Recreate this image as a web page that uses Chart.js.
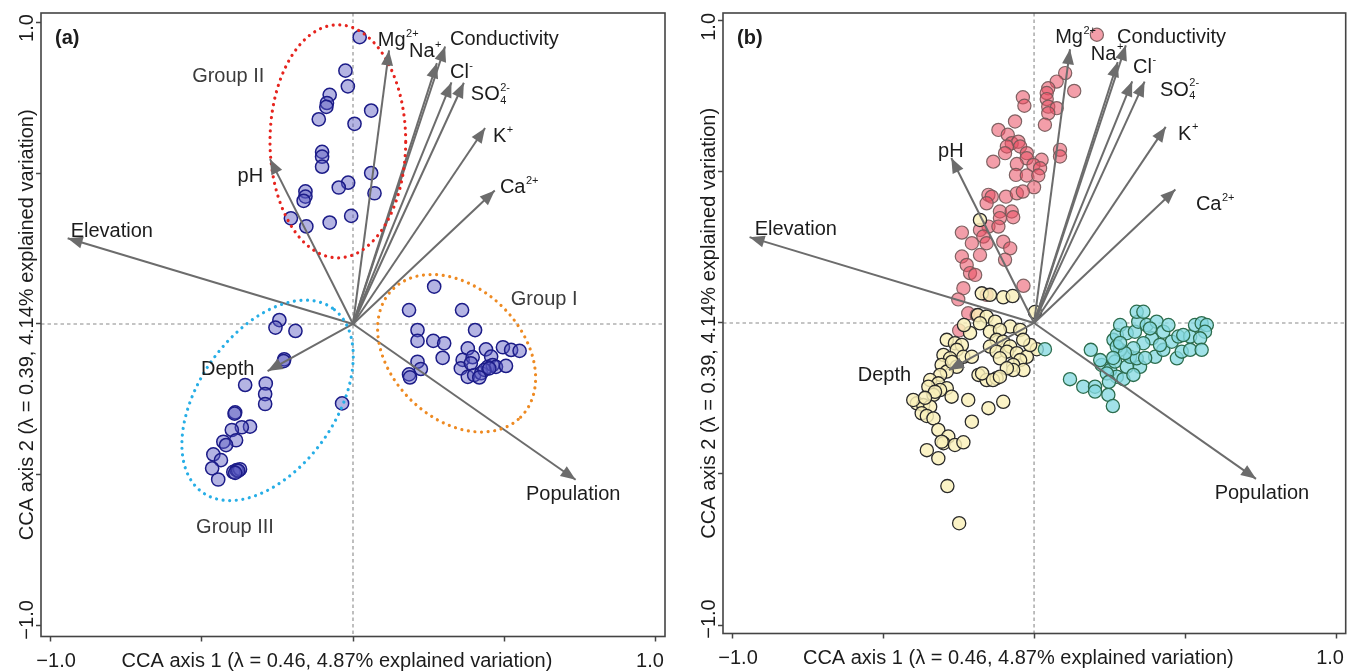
<!DOCTYPE html>
<html><head><meta charset="utf-8">
<script src="https://cdn.jsdelivr.net/npm/chart.js@4.4.1/dist/chart.umd.min.js"></script>
<style>
html,body{margin:0;padding:0;background:#fff;width:1357px;height:671px;overflow:hidden}
.p{position:absolute;top:0;height:671px}
#wa{left:0;width:680px}
#wb{left:680px;width:677px}
canvas{display:block}
</style></head><body>
<div class="p" id="wa"><canvas id="ca" width="680" height="671"></canvas></div>
<div class="p" id="wb"><canvas id="cb" width="677" height="671"></canvas></div>
<script>
// ---------- axes ----------
const tickValues = [-1, -0.5, 0, 0.5, 1];
const tickLabels = ['\u22121.0', '', '', '', '1.0'];
const xAxisTitle = 'CCA axis 1 (\u03bb = 0.46, 4.87% explained variation)';
const yAxisTitle = 'CCA axis 2 (\u03bb = 0.39, 4.14% explained variation)';

// ---------- environmental vectors (shared by both panels) ----------
const envNames = ['Mg^{2+}','Na^{+}','Conductivity','Cl^{-}','SO_{4}^{2-}','K^{+}','Ca^{2+}','pH','Elevation','Depth','Population'];
const envX = [0.119, 0.277, 0.304, 0.325, 0.366, 0.436, 0.468, -0.274, -0.942, -0.282, 0.735];
const envY = [0.906, 0.864, 0.919, 0.800, 0.799, 0.649, 0.442, 0.546, 0.284, -0.156, -0.516];

// ---------- panel (a) samples ----------
const groupIX = [0.268,0.185,0.360,0.403,0.213,0.213,0.265,0.301,0.296,0.213,0.224,0.185,0.188,0.379,0.439,0.495,0.522,0.550,0.362,0.395,0.456,0.356,0.379,0.400,0.423,0.445,0.461,0.472,0.505,0.434,0.417,0.450,0.389];
const groupIY = [0.124,0.046,0.046,-0.020,-0.020,-0.056,-0.056,-0.064,-0.112,-0.125,-0.149,-0.167,-0.177,-0.081,-0.084,-0.077,-0.086,-0.089,-0.119,-0.110,-0.108,-0.147,-0.175,-0.169,-0.163,-0.142,-0.136,-0.142,-0.139,-0.152,-0.177,-0.147,-0.130];
const groupIIX = [0.022,-0.025,-0.017,-0.077,-0.086,-0.088,-0.113,0.005,0.060,-0.102,-0.102,-0.102,0.060,0.071,-0.016,-0.047,-0.157,-0.157,-0.163,-0.205,-0.154,-0.077,-0.006];
const groupIIY = [0.950,0.839,0.787,0.759,0.732,0.719,0.678,0.663,0.707,0.570,0.554,0.521,0.500,0.433,0.468,0.452,0.439,0.422,0.408,0.350,0.323,0.336,0.358];
const groupIIIX = [-0.243,-0.256,-0.190,-0.227,-0.229,-0.356,-0.288,-0.290,-0.290,-0.036,-0.389,-0.391,-0.340,-0.367,-0.400,-0.386,-0.428,-0.419,-0.461,-0.436,-0.465,-0.445,-0.395,-0.384,-0.373,-0.379,-0.389];
const groupIIIY = [0.013,-0.012,-0.023,-0.117,-0.123,-0.202,-0.197,-0.232,-0.265,-0.263,-0.293,-0.297,-0.340,-0.342,-0.351,-0.385,-0.390,-0.401,-0.432,-0.451,-0.478,-0.515,-0.490,-0.484,-0.481,-0.486,-0.493];
const groupNames = ['Group I', 'Group II', 'Group III'];
// group ellipses (data units): centre, semi-axes, rotation in degrees
const ellCX = [0.342, -0.050, -0.282];
const ellCY = [-0.097, 0.605, -0.253];
const ellA = [0.299, 0.224, 0.373];
const ellB = [0.216, 0.386, 0.226];
const ellRot = [-45, 0, 55];

// ---------- panel (b) samples ----------
const redX = [0.208,0.103,0.075,0.047,0.042,0.133,0.042,0.047,0.075,0.047,0.036,-0.037,-0.032,0.086,0.086,-0.063,-0.118,-0.087,-0.074,-0.052,-0.090,-0.046,-0.096,-0.024,-0.024,-0.135,0.025,-0.057,-0.002,0.020,-0.060,-0.024,0.014,0.000,-0.151,-0.140,-0.093,-0.057,-0.037,-0.157,-0.113,-0.074,-0.069,-0.113,-0.151,-0.118,-0.179,-0.239,-0.168,-0.157,-0.206,-0.102,-0.079,-0.239,-0.179,-0.096,-0.223,-0.212,-0.195,-0.234,-0.035,-0.251,-0.157,-0.218,-0.190,-0.248];
const redY = [0.954,0.827,0.799,0.777,0.761,0.768,0.741,0.716,0.711,0.694,0.656,0.747,0.719,0.573,0.551,0.667,0.639,0.623,0.595,0.600,0.584,0.584,0.562,0.562,0.545,0.534,0.540,0.526,0.523,0.512,0.490,0.488,0.488,0.449,0.424,0.418,0.418,0.429,0.435,0.396,0.369,0.369,0.350,0.347,0.319,0.319,0.308,0.299,0.286,0.264,0.264,0.269,0.247,0.220,0.225,0.209,0.192,0.165,0.159,0.115,0.123,0.078,0.093,0.032,0.026,-0.025];
const yellowX = [0.003,-0.179,-0.173,-0.146,-0.102,-0.071,-0.186,-0.157,-0.129,-0.179,-0.079,-0.046,-0.146,-0.113,-0.289,-0.262,-0.239,-0.124,-0.102,-0.146,-0.079,-0.256,0.009,-0.124,-0.090,-0.057,-0.024,-0.300,-0.278,-0.234,-0.206,-0.113,-0.046,-0.069,-0.035,-0.069,-0.090,-0.306,-0.256,-0.289,-0.311,-0.184,-0.157,-0.124,-0.344,-0.317,-0.350,-0.289,-0.311,-0.273,-0.333,-0.388,-0.367,-0.344,-0.400,-0.372,-0.355,-0.333,-0.218,-0.102,-0.151,-0.206,-0.317,-0.284,-0.300,-0.262,-0.234,-0.355,-0.317,-0.287,-0.248,-0.306,-0.172,-0.136,-0.113,-0.013,-0.036,-0.212,-0.232,-0.272,-0.328,-0.361];
const yellowY = [0.036,0.341,0.098,0.093,0.085,0.089,0.026,0.021,0.004,-0.001,-0.012,-0.023,-0.029,-0.023,-0.056,-0.067,-0.073,-0.056,-0.062,-0.078,-0.078,-0.089,-0.087,-0.095,-0.095,-0.100,-0.112,-0.106,-0.117,-0.112,-0.112,-0.117,-0.123,-0.139,-0.156,-0.156,-0.150,-0.139,-0.145,-0.161,-0.172,-0.172,-0.189,-0.183,-0.189,-0.200,-0.211,-0.216,-0.222,-0.244,-0.238,-0.266,-0.272,-0.277,-0.255,-0.299,-0.308,-0.316,-0.255,-0.261,-0.282,-0.327,-0.354,-0.376,-0.398,-0.404,-0.395,-0.421,-0.448,-0.540,-0.663,-0.393,-0.167,-0.189,-0.178,-0.073,-0.056,-0.033,-0.007,-0.129,-0.228,-0.248];
const cyanX = [0.036,0.188,0.119,0.163,0.202,0.202,0.246,0.261,0.224,0.252,0.274,0.296,0.268,0.307,0.351,0.318,0.340,0.285,0.263,0.274,0.285,0.307,0.334,0.345,0.340,0.362,0.373,0.390,0.362,0.329,0.401,0.406,0.428,0.445,0.428,0.456,0.478,0.473,0.489,0.517,0.517,0.533,0.555,0.572,0.566,0.550,0.555,0.494,0.384,0.274,0.241,0.219,0.301,0.329,0.262,0.285,0.248,0.417,0.368];
const cyanY = [-0.087,-0.089,-0.186,-0.211,-0.211,-0.227,-0.238,-0.275,-0.139,-0.156,-0.178,-0.186,-0.128,-0.145,-0.145,-0.112,-0.117,-0.089,-0.056,-0.040,-0.007,-0.034,-0.029,0.004,0.037,0.037,-0.007,-0.051,-0.067,-0.084,-0.112,0.004,-0.029,-0.007,-0.089,-0.062,-0.045,-0.117,-0.095,-0.089,-0.045,-0.007,-0.001,-0.007,-0.029,-0.051,-0.089,-0.040,-0.018,-0.078,-0.167,-0.123,-0.100,-0.172,-0.116,-0.066,-0.195,-0.073,-0.116];

// ---------- label anchors (data units, left / baseline) ----------
const envLabelAX = [0.082, 0.185, 0.320, 0.320, 0.389, 0.462, 0.485, -0.381, -0.932, -0.502, 0.571];
const envLabelAY = [0.921, 0.884, 0.924, 0.815, 0.742, 0.603, 0.434, 0.470, 0.288, -0.169, -0.583];
const envLabelBX = [0.070, 0.188, 0.275, 0.328, 0.417, 0.477, 0.536, -0.318, -0.925, -0.584, 0.598];
const envLabelBY = [0.927, 0.871, 0.927, 0.828, 0.752, 0.606, 0.374, 0.550, 0.291, -0.192, -0.583];
const groupLabelX = [0.521, -0.531, -0.518];
const groupLabelY = [0.063, 0.801, -0.692];

// ---------- drawing helpers ----------
const FONT = '"Liberation Sans", Arial, Helvetica, sans-serif';
const zip = (xs, ys) => xs.slice(0, Math.min(xs.length, ys.length)).map((x, i) => ({x, y: ys[i]}));

function drawRich(ctx, text, x, y, size) {
  const parts = text.split(/(\^\{[^}]*\}|_\{[^}]*\})/).filter(s => s);
  const small = Math.round(size * 0.56);
  let cx = x, subStart = null;
  for (const p of parts) {
    if (p.startsWith('^{')) {
      const t = p.slice(2, -1);
      ctx.font = small + 'px ' + FONT;
      const sx = subStart !== null ? subStart : cx + 0.5;
      ctx.fillText(t, sx, y - size * 0.47);
      cx = Math.max(cx, sx + ctx.measureText(t).width);
      subStart = null;
    } else if (p.startsWith('_{')) {
      const t = p.slice(2, -1);
      ctx.font = small + 'px ' + FONT;
      subStart = cx + 0.5;
      ctx.fillText(t, subStart, y + size * 0.18);
      cx = subStart + ctx.measureText(t).width;
    } else {
      ctx.font = size + 'px ' + FONT;
      ctx.fillText(p, cx, y);
      cx += ctx.measureText(p).width;
      subStart = null;
    }
  }
}

const ARROW_COLOR = '#6c6c6c';

function makePlugin(panel) {
  return {
    id: 'biplot_' + panel.key,
    beforeDatasetsDraw(chart) {
      const {ctx, chartArea: a, scales: {x, y}} = chart;
      const x0 = x.getPixelForValue(0), y0 = y.getPixelForValue(0);
      ctx.save();
      ctx.strokeStyle = '#8a8a8a';
      ctx.lineWidth = 1.1;
      ctx.setLineDash([3.5, 3]);
      ctx.beginPath();
      ctx.moveTo(a.left, y0); ctx.lineTo(a.right, y0);
      ctx.moveTo(x0, a.top); ctx.lineTo(x0, a.bottom);
      ctx.stroke();
      ctx.restore();
    },
    afterDatasetsDraw(chart) {
      const {ctx, scales: {x, y}} = chart;
      ctx.save();
      // group ellipses
      if (panel.ellipses) {
        for (let k = 0; k < ellCX.length; k++) {
          const r = ellRot[k] * Math.PI / 180;
          ctx.beginPath();
          for (let i = 0; i <= 360; i++) {
            const t = i / 360 * Math.PI * 2;
            const dx = ellA[k] * Math.cos(t), dy = ellB[k] * Math.sin(t);
            const vx = ellCX[k] + dx * Math.cos(r) - dy * Math.sin(r);
            const vy = ellCY[k] + dx * Math.sin(r) + dy * Math.cos(r);
            const px = x.getPixelForValue(vx), py = y.getPixelForValue(vy);
            if (i === 0) ctx.moveTo(px, py); else ctx.lineTo(px, py);
          }
          ctx.strokeStyle = panel.ellipseColors[k];
          ctx.lineWidth = 3.2;
          ctx.lineCap = 'round';
          ctx.setLineDash([0.01, 6.6]);
          ctx.stroke();
        }
        ctx.setLineDash([]);
      }
      // arrow heads
      const ox = x.getPixelForValue(0), oy = y.getPixelForValue(0);
      ctx.fillStyle = ARROW_COLOR;
      for (let i = 0; i < envX.length; i++) {
        const tx = x.getPixelForValue(envX[i]), ty = y.getPixelForValue(envY[i]);
        const ang = Math.atan2(ty - oy, tx - ox);
        const L = 15, W = 6;
        const bx = tx - L * Math.cos(ang), by = ty - L * Math.sin(ang);
        ctx.beginPath();
        ctx.moveTo(tx, ty);
        ctx.lineTo(bx + W * Math.sin(ang), by - W * Math.cos(ang));
        ctx.lineTo(bx - W * Math.sin(ang), by + W * Math.cos(ang));
        ctx.closePath();
        ctx.fill();
      }
      // vector labels
      ctx.fillStyle = '#1c1c1c';
      ctx.textAlign = 'left';
      ctx.textBaseline = 'alphabetic';
      for (let i = 0; i < envNames.length; i++) {
        drawRich(ctx, envNames[i], x.getPixelForValue(panel.labelX[i]), y.getPixelForValue(panel.labelY[i]), 20);
      }
      if (panel.groupLabels) {
        ctx.fillStyle = '#3c3c3c';
        ctx.font = '20px ' + FONT;
        for (let i = 0; i < groupNames.length; i++) {
          ctx.fillText(groupNames[i], x.getPixelForValue(groupLabelX[i]), y.getPixelForValue(groupLabelY[i]));
        }
      }
      ctx.restore();
    },
    afterDraw(chart) {
      const {ctx, chartArea: a, scales: {x, y}} = chart;
      ctx.save();
      // box
      ctx.strokeStyle = '#444';
      ctx.lineWidth = 1.6;
      ctx.strokeRect(a.left, a.top, a.right - a.left, a.bottom - a.top);
      ctx.fillStyle = '#1c1c1c';
      ctx.font = '20px ' + FONT;
      ctx.textBaseline = 'alphabetic';
      // x tick labels
      ctx.textAlign = 'center';
      const base = a.bottom + 30.5;
      tickValues.forEach((v, i) => {
        if (!tickLabels[i]) return;
        const off = v < 0 ? 6 : (v > 0 ? -6 : 0);
        ctx.fillText(tickLabels[i], x.getPixelForValue(v) + off, base);
      });
      ctx.fillText(xAxisTitle, (a.left + a.right) / 2 - 16, base);
      // y tick labels (rotated)
      const bx = a.left - 8;
      tickValues.forEach((v, i) => {
        if (!tickLabels[i]) return;
        const off = v < 0 ? -6 : (v > 0 ? 6 : 0);
        ctx.save();
        ctx.translate(bx, y.getPixelForValue(v) + off);
        ctx.rotate(-Math.PI / 2);
        ctx.fillText(tickLabels[i], 0, 0);
        ctx.restore();
      });
      ctx.save();
      ctx.translate(bx, (a.top + a.bottom) / 2);
      ctx.rotate(-Math.PI / 2);
      ctx.fillText(yAxisTitle, 0, 0);
      ctx.restore();
      // panel letter
      ctx.textAlign = 'left';
      ctx.font = 'bold 20px ' + FONT;
      ctx.fillText(panel.letter, a.left + 14, a.top + 31);
      ctx.restore();
    }
  };
}

function scaleCfg(range, size, isX) {
  return {
    type: 'linear', min: range[0], max: range[1], position: isX ? 'bottom' : 'left',
    afterBuildTicks: s => { s.ticks = tickValues.map(v => ({value: v})); },
    afterFit: s => { if (isX) s.height = size; else s.width = size; },
    ticks: {display: false, autoSkip: false},
    grid: {display: true, drawOnChartArea: false, drawTicks: true, tickLength: 5, tickColor: '#444', tickWidth: 1.5},
    border: {display: false}
  };
}

function arrowDatasets() {
  return envX.map((ex, i) => ({
    type: 'scatter', label: envNames[i], data: [{x: 0, y: 0}, {x: ex, y: envY[i]}],
    showLine: true, borderColor: ARROW_COLOR, borderWidth: 2, pointRadius: 0, order: 0
  }));
}

function pointSet(label, xs, ys, bg, border, bw, order) {
  return {type: 'scatter', label, data: zip(xs, ys), backgroundColor: bg, borderColor: border,
    borderWidth: bw, pointRadius: 6.6, pointHoverRadius: 6.6, order};
}

function build(canvasId, panel, datasets, xr, yr, yW, xH, pad) {
  return new Chart(document.getElementById(canvasId), {
    type: 'scatter',
    data: {datasets: datasets.concat(arrowDatasets())},
    options: {
      responsive: false, animation: false, devicePixelRatio: 1,
      layout: {padding: pad},
      plugins: {legend: {display: false}, tooltip: {enabled: false}},
      events: [],
      scales: {x: scaleCfg(xr, xH, true), y: scaleCfg(yr, yW, false)}
    },
    plugins: [makePlugin(panel)]
  });
}

const navyFill = 'rgba(88,88,192,0.45)', navyEdge = '#1c1c88';
build('ca', {key: 'a', letter: '(a)', labelX: envLabelAX, labelY: envLabelAY, ellipses: true,
    ellipseColors: ['#ee8a22', '#e6241e', '#27aee6'], groupLabels: true},
  [pointSet('Group I', groupIX, groupIY, navyFill, navyEdge, 1.5, 1),
   pointSet('Group II', groupIIX, groupIIY, navyFill, navyEdge, 1.5, 1),
   pointSet('Group III', groupIIIX, groupIIIY, navyFill, navyEdge, 1.5, 1)],
  [-1.03, 1.03], [-1.035, 1.03], 41, 34.5, {left: 0, top: 13, right: 15, bottom: 0});

build('cb', {key: 'b', letter: '(b)', labelX: envLabelBX, labelY: envLabelBY, ellipses: false, groupLabels: false},
  [pointSet('Cluster 3', cyanX, cyanY, 'rgba(135,218,226,0.78)', '#2d6d4e', 1.3, 1),
   pointSet('Cluster 2', yellowX, yellowY, 'rgba(250,240,186,0.82)', '#2a2a2a', 1.3, 2),
   pointSet('Cluster 1', redX, redY, 'rgba(234,78,98,0.55)', 'rgba(115,88,88,0.9)', 1.2, 3)],
  [-1.030, 1.032], [-1.028, 1.026], 43, 37.5, {left: 0, top: 13, right: 11.3, bottom: 0});
</script>
</body></html>
